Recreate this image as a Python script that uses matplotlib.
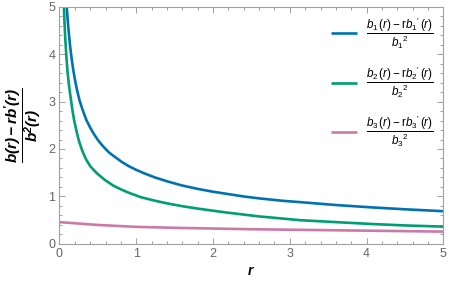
import matplotlib

matplotlib.use("Agg")

import matplotlib.pyplot as plt
from matplotlib.ticker import MultipleLocator

# values
r_b1 = [0.085, 0.094, 0.105, 0.12, 0.14, 0.16, 0.18, 0.2, 0.23, 0.26, 0.3, 0.35,
        0.4, 0.45, 0.5, 0.55, 0.6, 0.65, 0.7, 0.8, 0.9, 1.0, 1.1, 1.245, 1.4,
        1.6, 1.8, 2.0, 2.16, 2.4, 2.6, 2.9, 3.14, 3.6, 4.07, 4.5, 5.0]
b1 = [5.3, 5.0, 4.75, 4.47, 4.14, 3.88, 3.66, 3.47, 3.23, 3.03, 2.83, 2.61,
      2.45, 2.31, 2.19, 2.09, 2.0, 1.92, 1.86, 1.74, 1.64, 1.56, 1.49, 1.40, 1.32,
      1.23, 1.16, 1.10, 1.06, 1.00, 0.96, 0.91, 0.88, 0.82, 0.77, 0.73, 0.69]

r_b2 = [0.052, 0.057, 0.065, 0.075, 0.09, 0.105, 0.12, 0.135, 0.15, 0.17, 0.19,
        0.21, 0.23, 0.25, 0.28, 0.31, 0.35, 0.4, 0.45, 0.5, 0.59, 0.7, 0.8, 0.9,
        1.06, 1.245, 1.4, 1.6, 1.8, 2.16, 2.6, 3.14, 3.6, 4.07, 4.5, 5.0]
b2 = [5.3, 5.0, 4.67, 4.33, 3.94, 3.62, 3.39, 3.2, 3.03, 2.8, 2.61,
      2.46, 2.32, 2.19, 2.04, 1.91, 1.77, 1.64, 1.55, 1.47, 1.35, 1.23, 1.15, 1.08,
      0.985, 0.91, 0.855, 0.795, 0.745, 0.665, 0.58, 0.50, 0.46, 0.42, 0.39, 0.365]

r_b3 = [0.0, 0.25, 0.5, 0.75, 1.0, 1.5, 2.0, 2.5, 3.0, 3.5, 4.0, 4.5, 5.0]
b3 = [0.46, 0.43, 0.40, 0.38, 0.36, 0.34, 0.325, 0.31, 0.30, 0.29, 0.28, 0.27, 0.26]

labels = [r"$\dfrac{b_1\,(r) - \mathrm{r}b_1{}'\,(r)}{{b_1}^2}$",
          r"$\dfrac{b_2\,(r) - \mathrm{r}b_2{}'\,(r)}{{b_2}^2}$",
          r"$\dfrac{b_3\,(r) - \mathrm{r}b_3{}'\,(r)}{{b_3}^2}$"]
colors = ["#0072B2", "#009E73", "#CC79A7"]

plt.rcParams.update({
    "font.family": "Liberation Sans",
    "mathtext.fontset": "custom",
    "mathtext.rm": "Liberation Sans",
    "mathtext.it": "Liberation Sans:italic",
    "mathtext.bf": "Liberation Sans:bold",
    "mathtext.bfit": "Liberation Sans:bold:italic",
})

fig = plt.figure(figsize=(4.49, 2.85), dpi=100)
ax = fig.add_axes([0.1325, 0.144, 0.855, 0.833])

for xs, ys, lab, col in zip([r_b1, r_b2, r_b3], [b1, b2, b3], labels, colors):
    ax.plot(xs, ys, color=col, lw=1.9, label=lab, solid_capstyle="butt")

ax.set_xlim(0, 5)
ax.set_ylim(0, 5)
ax.xaxis.set_major_locator(MultipleLocator(1))
ax.xaxis.set_minor_locator(MultipleLocator(0.2))
ax.yaxis.set_major_locator(MultipleLocator(1))
ax.yaxis.set_minor_locator(MultipleLocator(0.2))

frame_col = "#a0a0a0"
for s in ax.spines.values():
    s.set_color(frame_col)
    s.set_linewidth(0.8)
ax.tick_params(which="both", direction="in", top=True, right=True,
               color=frame_col, width=0.7, labelcolor="#666666", labelsize=9)
ax.tick_params(which="major", length=4.5, pad=3)
ax.tick_params(which="minor", length=2.5)

ax.set_xlabel(r"$\mathbfit{r}$", fontsize=10, labelpad=3)
ax.set_ylabel(r"$\dfrac{\mathbfit{b(r) - rb'(r)}}{\mathbfit{b^2(r)}}$", fontsize=11, labelpad=3)

ax.legend(loc="upper right", frameon=False, fontsize=8.4, handlelength=2.2,
          labelspacing=1.2, borderaxespad=0.4, handletextpad=0.8)

fig.savefig("out.png", dpi=100)
